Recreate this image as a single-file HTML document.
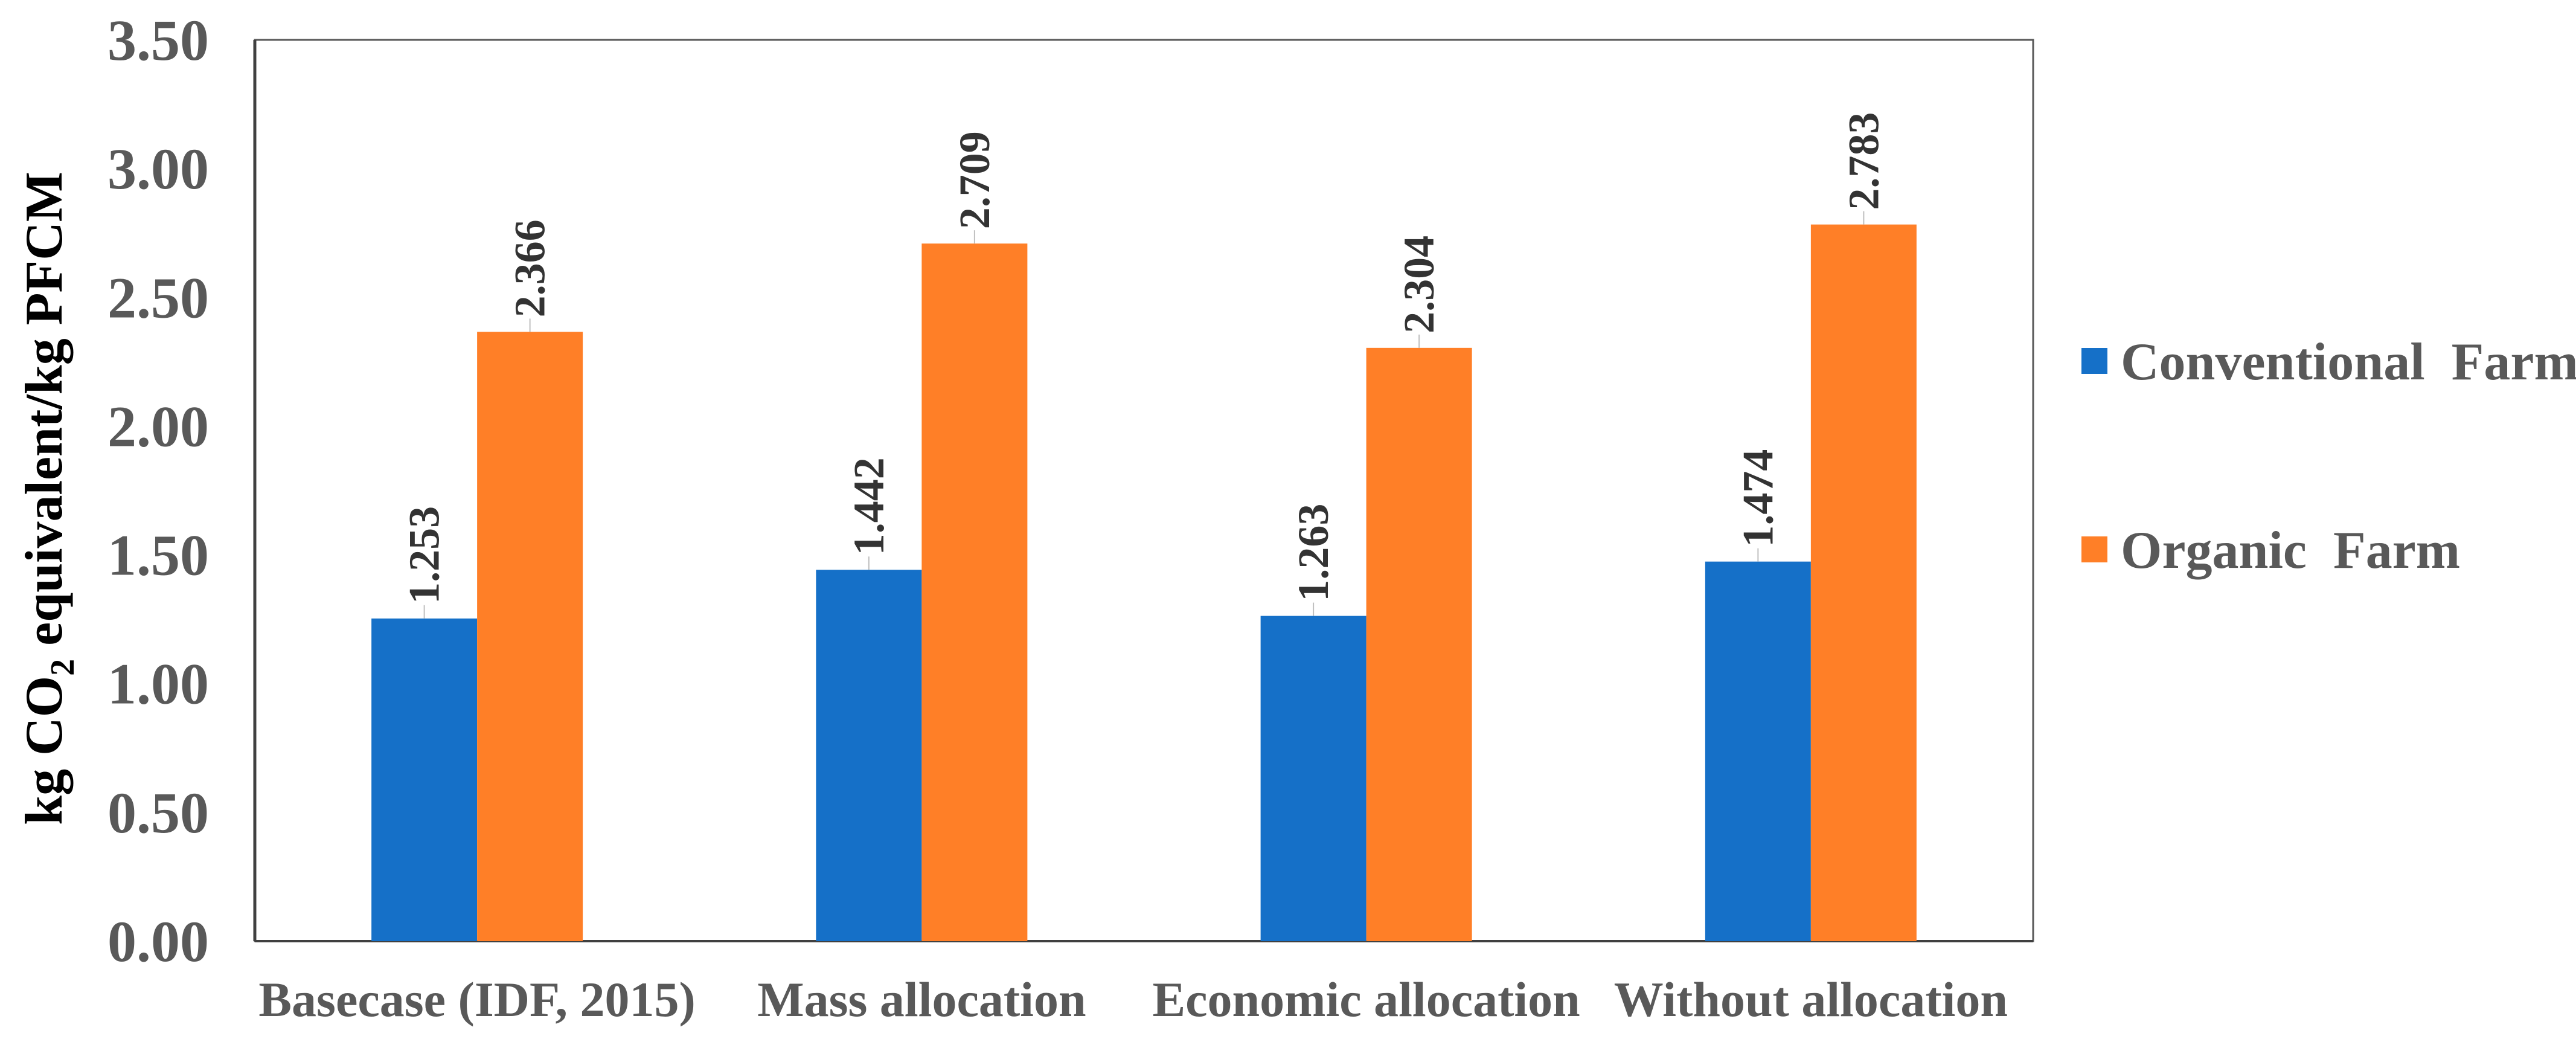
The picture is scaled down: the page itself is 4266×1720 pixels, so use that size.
<!DOCTYPE html>
<html><head><meta charset="utf-8"><style>
html,body{margin:0;padding:0;background:#fff;}
svg{display:block;}
text{font-family:"Liberation Serif",serif;font-weight:bold;}
</style></head><body>
<svg id="chart" width="4266" height="1720" viewBox="0 0 4266 1720">
<rect x="0" y="0" width="4266" height="1720" fill="#fff"/>
<rect x="422" y="66" width="2945" height="1492" fill="none" stroke="#595959" stroke-width="3"/>
<line x1="422" y1="66" x2="422" y2="1558" stroke="#404040" stroke-width="5"/>
<line x1="422" y1="1558" x2="3367" y2="1558" stroke="#404040" stroke-width="4"/>
<g id="bars"></g>
<g id="yticks"></g>
<g id="xlabels"></g>
<text x="0" y="0" transform="translate(102,825) rotate(-90)" text-anchor="middle" font-size="88" fill="#000">kg CO<tspan font-size="56" dy="20">2</tspan><tspan dy="-20"> equivalent/kg PFCM</tspan></text>
<g>
<g>
<rect x="3447" y="576" width="43" height="43" fill="#1570C8"/>
<text x="3512" y="628" font-size="88" fill="#595959" xml:space="preserve">Conventional  Farm</text>
</g>
<g>
<rect x="3447" y="888" width="43" height="43" fill="#FF7F27"/>
<text x="3512" y="940" font-size="88" fill="#595959" xml:space="preserve">Organic  Farm</text>
</g>
</g>
</svg>
<script>
const categories = ["Basecase (IDF, 2015)", "Mass allocation", "Economic allocation", "Without allocation"];
const conventional = [1.253, 1.442, 1.263, 1.474];
const organic = [2.366, 2.709, 2.304, 2.783];
const yTicks = [0, 0.5, 1, 1.5, 2, 2.5, 3, 3.5];
const yTickLabels = ["0.00","0.50","1.00","1.50","2.00","2.50","3.00","3.50"];

const NS = "http://www.w3.org/2000/svg";
const plotL = 422, plotR = 3367, plotT = 66, plotB = 1558, yMax = 3.5;
const band = (plotR - plotL) / categories.length;
const barW = 175;
function yScale(v){ return plotB - v / yMax * (plotB - plotT); }
function xCenter(i){ return plotL + band * (i + 0.5); }
function mk(tag, attrs){ const e = document.createElementNS(NS, tag); for (const k in attrs) e.setAttribute(k, attrs[k]); return e; }

const barsG = document.getElementById('bars');
const series = [{vals: conventional, color: "#1570C8", key: "conventional", off: -1},
                {vals: organic, color: "#FF7F27", key: "organic", off: 0}];
series.forEach(s => {
  s.vals.forEach((v, i) => {
    const x = xCenter(i) + s.off * barW;
    const y = yScale(v);
    const r = mk('rect', {x: x, y: y, width: barW, height: plotB - y, fill: s.color});
    
    
    barsG.appendChild(r);
    const cx = x + barW / 2;
    const ln = mk('line', {x1: cx, y1: y, x2: cx, y2: y - 22, stroke: "#bfbfbf", 'stroke-width': 2});
    
    
    barsG.appendChild(ln);
    const t = mk('text', {x: 0, y: 0, transform: 'translate(' + (cx + 24) + ',' + (y - 24) + ') rotate(-90)', 'font-size': 72, fill: '#333'});
    t.textContent = v.toFixed(3);
    
    
    barsG.appendChild(t);
  });
});

const yG = document.getElementById('yticks');
yTicks.forEach((v, i) => {
  const t = mk('text', {x: 346, y: yScale(v) + 33, 'text-anchor': 'end', 'font-size': 96, fill: '#595959'});
  t.textContent = yTickLabels[i];
  
  
  yG.appendChild(t);
});

const xG = document.getElementById('xlabels');
categories.forEach((c, i) => {
  const t = mk('text', {x: xCenter(i), y: 1682, 'text-anchor': 'middle', 'font-size': 82, fill: '#595959'});
  t.textContent = c;
  
  
  xG.appendChild(t);
});
</script>
</body></html>
